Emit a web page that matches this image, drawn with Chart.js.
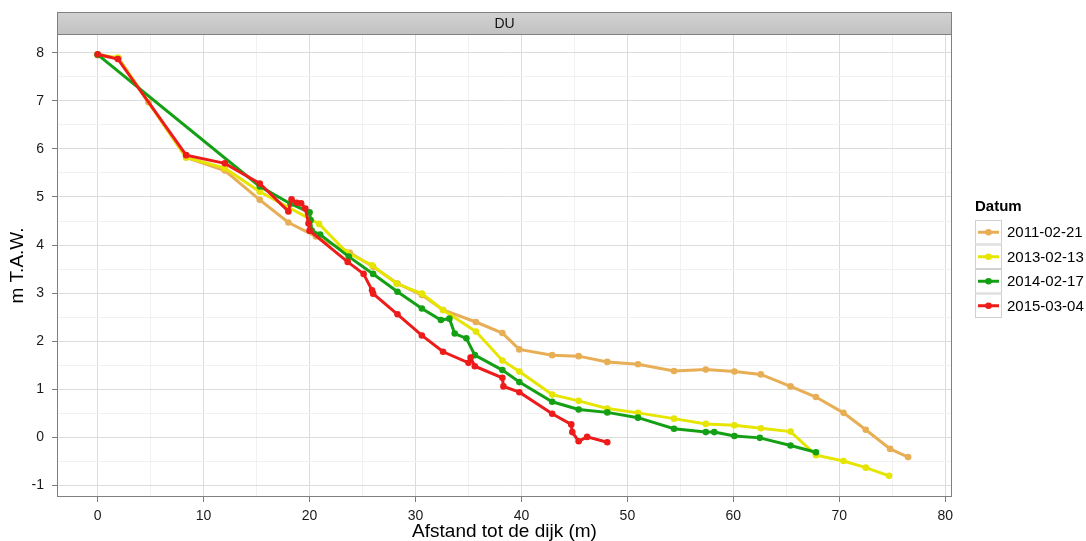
<!DOCTYPE html>
<html>
<head>
<meta charset="utf-8">
<script src="https://cdn.jsdelivr.net/npm/chart.js@4/dist/chart.umd.min.js"></script>
<style>
  html, body { margin: 0; padding: 0; background: #ffffff; }
  #wrap { width: 1086px; height: 541px; }
</style>
</head>
<body>
<div id="wrap"><canvas id="profiel" width="1086" height="541"></canvas></div>
<script>
// Dwarsprofielen DU: hoogte (m T.A.W.) tegen afstand tot de dijk (m)
const panelTitle = 'DU';
const legendTitle = 'Datum';
const seriesLabels = ['2011-02-21', '2013-02-13', '2014-02-17', '2015-03-04'];
const seriesColors = ['#E8AE55', '#E5E500', '#14A014', '#EE1B1B'];

const afstand2011 = [0, 2.0, 4.8, 8.35, 12.0, 15.3, 18.0, 20.6, 23.8, 26.0, 28.3, 30.6, 32.6, 35.7, 38.2, 39.8, 42.9, 45.4, 48.1, 51.0, 54.4, 57.4, 60.1, 62.6, 65.4, 67.8, 70.4, 72.5, 74.8, 76.5];
const hoogte2011  = [7.95, 7.88, 6.97, 5.82, 5.55, 4.94, 4.47, 4.18, 3.84, 3.55, 3.20, 2.96, 2.65, 2.40, 2.17, 1.83, 1.71, 1.69, 1.57, 1.52, 1.38, 1.41, 1.37, 1.31, 1.06, 0.84, 0.51, 0.16, -0.24, -0.41];

const afstand2013 = [0, 1.9, 8.35, 12.0, 15.3, 20.9, 23.5, 25.9, 28.2, 30.6, 32.6, 35.7, 38.2, 39.8, 42.9, 45.4, 48.1, 51.0, 54.4, 57.4, 60.1, 62.6, 65.4, 67.8, 70.4, 72.5, 74.7];
const hoogte2013  = [7.96, 7.90, 5.82, 5.60, 5.11, 4.44, 3.85, 3.58, 3.20, 2.99, 2.65, 2.20, 1.60, 1.37, 0.89, 0.76, 0.60, 0.51, 0.39, 0.28, 0.25, 0.19, 0.12, -0.37, -0.49, -0.63, -0.80];

const afstand2014 = [0, 15.3, 18.2, 20.0, 20.1, 20.2, 21.0, 23.7, 26.0, 28.3, 30.6, 32.4, 33.2, 33.7, 34.8, 35.6, 38.2, 39.8, 42.9, 45.4, 48.1, 51.0, 54.4, 57.4, 58.2, 60.1, 62.5, 65.4, 67.8];
const hoogte2014  = [7.96, 5.22, 4.86, 4.68, 4.52, 4.30, 4.22, 3.76, 3.40, 3.03, 2.68, 2.44, 2.47, 2.16, 2.06, 1.71, 1.40, 1.15, 0.74, 0.58, 0.52, 0.41, 0.18, 0.11, 0.11, 0.03, -0.01, -0.17, -0.31];

const afstand2015 = [0, 1.9, 8.35, 12.0, 15.3, 18.0, 18.3, 18.8, 19.2, 19.6, 19.9, 20.0, 23.6, 25.1, 25.9, 26.0, 28.3, 30.6, 32.6, 35.0, 35.2, 35.6, 38.2, 38.3, 39.8, 42.9, 44.7, 44.8, 45.4, 46.2, 48.1];
const hoogte2015  = [7.97, 7.87, 5.87, 5.70, 5.28, 4.70, 4.95, 4.88, 4.87, 4.76, 4.45, 4.30, 3.65, 3.40, 3.06, 2.99, 2.56, 2.12, 1.78, 1.55, 1.66, 1.48, 1.24, 1.06, 0.94, 0.49, 0.27, 0.11, -0.08, 0.01, -0.10];

const xTickLabels = [0, 10, 20, 30, 40, 50, 60, 70, 80];
const yTickLabels = [-1, 0, 1, 2, 3, 4, 5, 6, 7, 8];
const xGrid = [0, 5, 10, 15, 20, 25, 30, 35, 40, 45, 50, 55, 60, 65, 70, 75, 80];
const yGrid = [-1, -0.5, 0, 0.5, 1, 1.5, 2, 2.5, 3, 3.5, 4, 4.5, 5, 5.5, 6, 6.5, 7, 7.5, 8];

const FONT = '"Liberation Sans", Arial, sans-serif';
const pairs = (xs, ys) => xs.map((x, i) => ({ x: x, y: ys[i] }));
const series = [
  pairs(afstand2011, hoogte2011),
  pairs(afstand2013, hoogte2013),
  pairs(afstand2014, hoogte2014),
  pairs(afstand2015, hoogte2015)
];

const datasets = series.map((d, i) => ({
  label: seriesLabels[i],
  data: d,
  showLine: true,
  borderColor: seriesColors[i],
  backgroundColor: seriesColors[i],
  borderWidth: 3,
  pointRadius: 3.3,
  pointBorderWidth: 0,
  pointHoverRadius: 3.3,
  tension: 0,
  order: seriesLabels.length - i
}));

const isMajorX = v => xTickLabels.includes(v);
const isMajorY = v => yTickLabels.includes(v);

// Facet strip, panel border and legend in the style of a ggplot panel
const facetPlugin = {
  id: 'facet',
  beforeDraw(chart) {
    const ctx = chart.ctx;
    ctx.save();
    ctx.fillStyle = '#ffffff';
    ctx.fillRect(0, 0, chart.width, chart.height);
    ctx.restore();
  },
  afterDraw(chart) {
    const ctx = chart.ctx;
    const a = chart.chartArea;
    ctx.save();
    // panel border
    ctx.strokeStyle = '#808080';
    ctx.lineWidth = 1;
    ctx.strokeRect(a.left + 0.5, a.top + 0.5, a.right - a.left - 1, a.bottom - a.top - 1);
    // strip
    const sTop = 12;
    const g = ctx.createLinearGradient(0, sTop, 0, a.top);
    g.addColorStop(0, '#d2d2d2');
    g.addColorStop(1, '#c2c2c2');
    ctx.fillStyle = g;
    ctx.fillRect(a.left, sTop, a.right - a.left, a.top - sTop);
    ctx.strokeRect(a.left + 0.5, sTop + 0.5, a.right - a.left - 1, a.top - sTop);
    ctx.fillStyle = '#111111';
    ctx.font = '14px ' + FONT;
    ctx.textAlign = 'center';
    ctx.textBaseline = 'middle';
    ctx.fillText(panelTitle, (a.left + a.right) / 2, (sTop + a.top) / 2 + 1);
    // legend
    const lx = 975, ly = 220, rowH = 24.5, keyW = 27;
    ctx.textAlign = 'left';
    ctx.font = 'bold 15px ' + FONT;
    ctx.fillStyle = '#000000';
    ctx.fillText(legendTitle, lx, 207);
    ctx.font = '15px ' + FONT;
    chart.data.datasets.forEach((ds, i) => {
      const top = ly + i * rowH;
      const cy = top + rowH / 2;
      ctx.fillStyle = '#ffffff';
      ctx.fillRect(lx, top, keyW, rowH);
      ctx.strokeStyle = '#d0d0d0';
      ctx.lineWidth = 1;
      ctx.strokeRect(lx + 0.5, top + 0.5, keyW - 1, rowH - 1);
      ctx.strokeStyle = ds.borderColor;
      ctx.lineWidth = 3;
      ctx.beginPath();
      ctx.moveTo(lx + 3, cy);
      ctx.lineTo(lx + keyW - 3, cy);
      ctx.stroke();
      ctx.fillStyle = ds.borderColor;
      ctx.beginPath();
      ctx.arc(lx + keyW / 2, cy, 3.3, 0, Math.PI * 2);
      ctx.fill();
      ctx.fillStyle = '#000000';
      ctx.fillText(ds.label, lx + keyW + 5, cy + 1);
    });
    ctx.restore();
  }
};

new Chart(document.getElementById('profiel'), {
  type: 'scatter',
  data: { datasets: datasets },
  plugins: [facetPlugin],
  options: {
    responsive: false,
    animation: false,
    devicePixelRatio: 1,
    layout: { padding: { left: 0, right: 134, top: 34, bottom: 0 } },
    plugins: { legend: { display: false }, tooltip: { enabled: false } },
    scales: {
      x: {
        type: 'linear',
        min: -3.84,
        max: 80.64,
        afterBuildTicks: s => { s.ticks = xGrid.map(v => ({ value: v })); },
        afterFit: s => { s.height = 44; },
        border: { display: false },
        grid: {
          color: c => (c.tick && isMajorX(c.tick.value)) ? '#dcdcdc' : '#f1f1f1',
          lineWidth: 1,
          drawTicks: true,
          tickLength: 5,
          tickColor: c => (c.tick && isMajorX(c.tick.value)) ? '#7a7a7a' : 'rgba(0,0,0,0)'
        },
        ticks: {
          autoSkip: false,
          maxRotation: 0,
          padding: 6,
          color: '#1a1a1a',
          font: { size: 14, family: FONT },
          callback: v => isMajorX(v) ? String(v) : ''
        },
        title: {
          display: true,
          text: 'Afstand tot de dijk (m)',
          color: '#000000',
          font: { size: 19, family: FONT, lineHeight: 1 },
          padding: { top: 0, bottom: 0 }
        }
      },
      y: {
        type: 'linear',
        min: -1.24,
        max: 8.39,
        afterBuildTicks: s => { s.ticks = yGrid.map(v => ({ value: v })); },
        afterFit: s => { s.width = 57; },
        border: { display: false },
        grid: {
          color: c => (c.tick && isMajorY(c.tick.value)) ? '#dcdcdc' : '#f1f1f1',
          lineWidth: 1,
          drawTicks: true,
          tickLength: 5,
          tickColor: c => (c.tick && isMajorY(c.tick.value)) ? '#7a7a7a' : 'rgba(0,0,0,0)'
        },
        ticks: {
          autoSkip: false,
          padding: 8,
          color: '#1a1a1a',
          font: { size: 14, family: FONT },
          callback: v => isMajorY(v) ? String(v) : ''
        },
        title: {
          display: true,
          text: 'm T.A.W.',
          color: '#000000',
          font: { size: 19, family: FONT, lineHeight: 1 },
          padding: { top: 8, bottom: 0 }
        }
      }
    }
  }
});
</script>
</body>
</html>
